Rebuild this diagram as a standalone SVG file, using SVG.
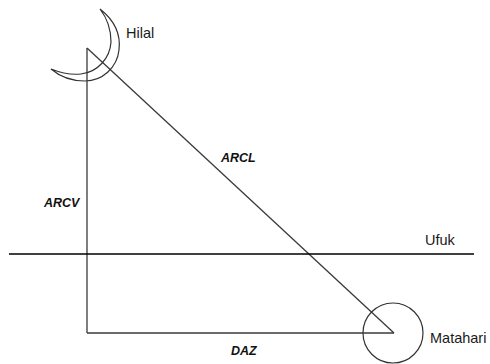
<svg xmlns="http://www.w3.org/2000/svg" width="490" height="364" viewBox="0 0 490 364">
  <style>
    .line { stroke: #3a3a3a; stroke-width: 1.3; fill: none; }
    .horizon { stroke: #000; stroke-width: 1.4; fill: none; }
    .body { stroke: #333; stroke-width: 1.2; fill: none; }
    .name { font-family: "Liberation Sans", Arial, sans-serif; font-size: 14.5px; fill: #1a1a1a; }
    .arc { font-family: "Liberation Sans", Arial, sans-serif; font-size: 12.5px; font-weight: bold; font-style: italic; fill: #111; }
  </style>
  <rect width="490" height="364" fill="#fff"/>

  <!-- triangle sides and horizon -->
  <g id="connectors">
    <line class="line" x1="87" y1="48" x2="87" y2="333"/>
    <line class="line" x1="87" y1="48" x2="394" y2="333"/>
    <line class="line" x1="87" y1="333" x2="394" y2="333"/>
    <line class="horizon" x1="9" y1="254" x2="474" y2="254"/>
  </g>

  <!-- crescent moon -->
  <g id="hilal">
    <path class="body" d="M100,9 C114,20 121,34 119,50 C117,68 102,81 85,81 C70,81 58,75 51,69 C61,73 71,75 81,74 C98,72 110,58 111,42 C111,30 107,18 100,9 Z"/>
    <text class="name" x="126" y="38">Hilal</text>
  </g>

  <!-- sun -->
  <g id="matahari">
    <circle class="body" cx="393" cy="333" r="30"/>
    <text class="name" x="430" y="343">Matahari</text>
  </g>

  <g id="ufuk">
    <text class="name" x="425" y="245">Ufuk</text>
  </g>

  <g id="labels">
    <text class="arc" x="44" y="207">ARCV</text>
    <text class="arc" x="221" y="162">ARCL</text>
    <text class="arc" x="231" y="355">DAZ</text>
  </g>
</svg>
